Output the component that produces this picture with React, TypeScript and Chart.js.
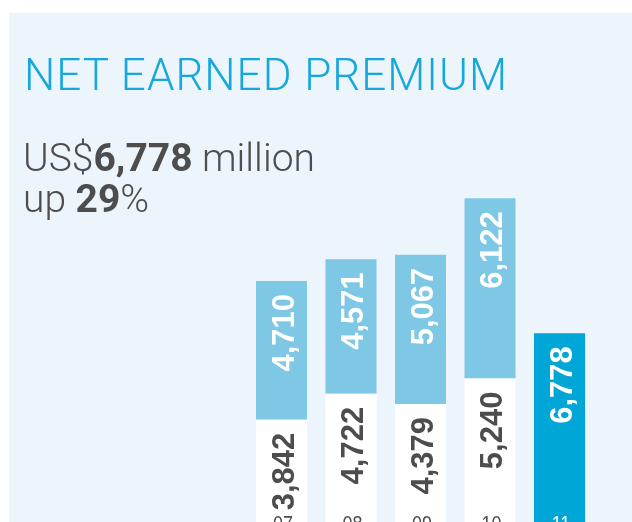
import React, { useEffect, useRef } from "react";
import { Chart, registerables } from "chart.js";

Chart.register(...registerables);

const categories = ["07", "08", "09", "10", "11"];
const baseValues = [3842, 4722, 4379, 5240, 6778];
const topValues: (number | null)[] = [4710, 4571, 5067, 6122, null];
const yMax = 12000;

const PANEL_BG = "#EDF5FC";
const LIGHT_BLUE = "#7EC8E6";
const DARK_BLUE = "#00A6D6";
const GRAY = "#4D4D4D";
const TITLE_BLUE = "#17A8DB";

const fmt = (v: number) => v.toLocaleString("en-US");

const labelPlugin = {
  id: "barLabels",
  afterDatasetsDraw(chart: any) {
    const ctx = chart.ctx;
    const last = categories.length - 1;
    chart.data.datasets.forEach((ds: any, d: number) => {
      const meta = chart.getDatasetMeta(d);
      meta.data.forEach((el: any, i: number) => {
        const v = ds.data[i];
        if (v === null || v === undefined) return;
        const color = d === 0 && i !== last ? GRAY : "#FFFFFF";
        ctx.save();
        ctx.translate(el.x + 12, el.y + 13);
        ctx.rotate(-Math.PI / 2);
        ctx.font = 'bold 31px "Liberation Sans", Arial, Helvetica, sans-serif';
        ctx.fillStyle = color;
        ctx.textAlign = "right";
        ctx.textBaseline = "alphabetic";
        ctx.fillText(fmt(v), 0, 0);
        ctx.restore();
      });
    });
    // category labels inside the base of each bar
    const meta0 = chart.getDatasetMeta(0);
    meta0.data.forEach((el: any, i: number) => {
      ctx.save();
      ctx.font = '18px "Liberation Sans", Arial, Helvetica, sans-serif';
      ctx.fillStyle = i === last ? "#FFFFFF" : GRAY;
      ctx.textAlign = "center";
      ctx.textBaseline = "alphabetic";
      ctx.translate(el.x + 1.5, 531);
      ctx.scale(1, 1.2);
      ctx.fillText(categories[i], 0, 0);
      ctx.restore();
    });
  },
};

export default function App() {
  const canvasRef = useRef<HTMLCanvasElement | null>(null);

  useEffect(() => {
    const canvas = canvasRef.current;
    if (!canvas) return;
    const chart = new Chart(canvas, {
      type: "bar",
      data: {
        labels: categories,
        datasets: [
          {
            label: "base",
            data: baseValues,
            backgroundColor: baseValues.map((_, i) =>
              i === categories.length - 1 ? DARK_BLUE : "#FFFFFF"
            ),
            borderWidth: 0,
            categoryPercentage: 1,
            barPercentage: 51 / 69.5,
          },
          {
            label: "top",
            data: topValues,
            backgroundColor: LIGHT_BLUE,
            borderWidth: 0,
            categoryPercentage: 1,
            barPercentage: 51 / 69.5,
          },
        ],
      },
      options: {
        responsive: false,
        animation: false,
        devicePixelRatio: 1,
        layout: {
          padding: { left: 246.75, right: 37.75, top: 179.4, bottom: 27 },
        },
        scales: {
          x: { display: false, stacked: true, grid: { display: false } },
          y: {
            display: false,
            stacked: true,
            min: 0,
            max: yMax,
            grid: { display: false },
          },
        },
        plugins: {
          legend: { display: false },
          tooltip: { enabled: false },
          title: { display: false },
        },
      },
      plugins: [labelPlugin],
    });
    return () => chart.destroy();
  }, []);

  return (
    <div
      style={{
        position: "fixed",
        left: 0,
        top: 0,
        width: 632,
        height: 522,
        overflow: "hidden",
        background: "#FFFFFF",
      }}
    >
      <div
        style={{
          position: "absolute",
          left: 9,
          top: 13,
          width: 623,
          height: 520,
          background: PANEL_BG,
        }}
      />
      <canvas
        ref={canvasRef}
        width={632}
        height={560}
        style={{ position: "absolute", left: 0, top: 0, width: 632, height: 560 }}
      />
      <div
        style={{
          position: "absolute",
          left: 24,
          top: 53,
          fontFamily: "Roboto, 'Liberation Sans', sans-serif",
          fontWeight: 300,
          fontSize: 44,
          lineHeight: "44px",
          letterSpacing: "1px",
          color: TITLE_BLUE,
          whiteSpace: "nowrap",
        }}
      >
        NET EARNED PREMIUM
      </div>
      <div
        style={{
          position: "absolute",
          left: 23,
          top: 137.6,
          fontFamily: "Roboto, 'Liberation Sans', sans-serif",
          fontWeight: 300,
          fontSize: 39,
          lineHeight: "41.6px",
          color: GRAY,
          whiteSpace: "nowrap",
        }}
      >
        <div>
          US$<b style={{ fontWeight: 700 }}>6,778</b> million
        </div>
        <div>
          up <b style={{ fontWeight: 700 }}>29</b>%
        </div>
      </div>
    </div>
  );
}
